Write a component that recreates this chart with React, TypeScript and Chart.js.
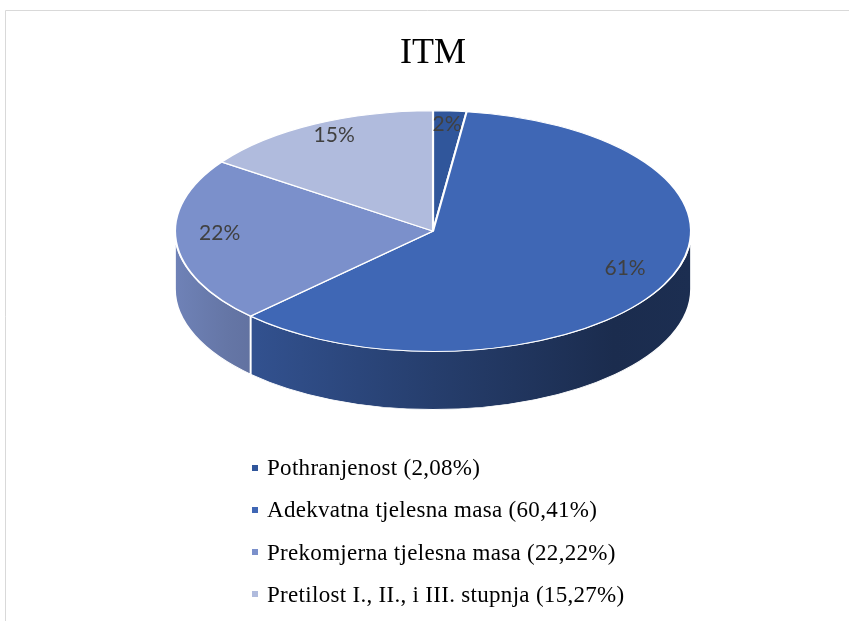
import React, { useEffect, useRef } from "react";
import { Chart, registerables } from "chart.js";

Chart.register(...registerables);

const TITLE = "ITM";
const categories = [
  "Pothranjenost",
  "Adekvatna tjelesna masa",
  "Prekomjerna tjelesna masa",
  "Pretilost I., II., i III. stupnja",
];
const legendPercents = ["2,08%", "60,41%", "22,22%", "15,27%"];
const values = [2.08, 60.41, 22.22, 15.27];
const sliceLabels = ["2%", "61%", "22%", "15%"];
const colors = ["#30569B", "#3F67B5", "#7B90CB", "#B0BBDD"];

// side shading: [position across ellipse width, brightness factor]
const sideShade: [number, number][] = [
  [0, 0.9],
  [0.1, 0.82],
  [0.5, 0.6],
  [0.85, 0.43],
  [1, 0.45],
];

function shade(hex: string, f: number) {
  const n = parseInt(hex.slice(1), 16);
  const r = Math.round(((n >> 16) & 255) * f);
  const g = Math.round(((n >> 8) & 255) * f);
  const b = Math.round((n & 255) * f);
  return `rgb(${r},${g},${b})`;
}

const pie3d = {
  id: "pie3d",
  beforeDraw(chart: any) {
    const { ctx, width, height } = chart;
    ctx.save();
    ctx.fillStyle = "#ffffff";
    ctx.fillRect(0, 0, width, height);
    ctx.strokeStyle = "#d9d9d9";
    ctx.lineWidth = 1;
    ctx.beginPath();
    ctx.moveTo(5.5, height + 2);
    ctx.lineTo(5.5, 10.5);
    ctx.lineTo(width + 2, 10.5);
    ctx.stroke();
    ctx.restore();
  },
  beforeDatasetsDraw(chart: any, _args: any, opts: any) {
    const ctx = chart.ctx;
    const meta = chart.getDatasetMeta(0);
    const arcs = meta.data;
    ctx.save();
    if (!arcs.length) return;
    const cx = arcs[0].x;
    const cy = arcs[0].y;
    const r = arcs[0].outerRadius;
    const sx = chart.chartArea.width / 2 / r;
    const depth = opts.depth || 58;
    ctx.translate(cx, cy);
    ctx.scale(sx, 1);
    ctx.translate(-cx, -cy);
    const ranges = [
      [0, Math.PI],
      [2 * Math.PI, 3 * Math.PI],
      [-2 * Math.PI, -Math.PI],
    ];
    arcs.forEach((arc: any, i: number) => {
      const s = arc.startAngle;
      const e = arc.endAngle;
      const col = colors[i % colors.length];
      ranges.forEach(([lo, hi]) => {
        const a1 = Math.max(s, lo);
        const a2 = Math.min(e, hi);
        if (a2 <= a1) return;
        const grad = ctx.createLinearGradient(cx - r, 0, cx + r, 0);
        sideShade.forEach(([p, f]) => grad.addColorStop(p, shade(col, f)));
        ctx.beginPath();
        ctx.arc(cx, cy, r, a1, a2, false);
        ctx.lineTo(cx + r * Math.cos(a2), cy + r * Math.sin(a2) + depth);
        ctx.arc(cx, cy + depth, r, a2, a1, true);
        ctx.closePath();
        ctx.fillStyle = grad;
        ctx.fill();
        ctx.strokeStyle = "#ffffff";
        ctx.lineWidth = 0.8;
        ctx.stroke();
      });
    });
  },
  afterDatasetsDraw(chart: any) {
    const ctx = chart.ctx;
    ctx.restore();
    const meta = chart.getDatasetMeta(0);
    const arcs = meta.data;
    if (!arcs.length) return;
    const cx = arcs[0].x;
    const cy = arcs[0].y;
    const r = arcs[0].outerRadius;
    const sx = chart.chartArea.width / 2 / r;
    ctx.save();
    ctx.font = "21px Lato, 'Liberation Sans', sans-serif";
    ctx.fillStyle = "#404040";
    ctx.textAlign = "center";
    ctx.textBaseline = "middle";
    arcs.forEach((arc: any, i: number) => {
      const mid = (arc.startAngle + arc.endAngle) / 2;
      const f = 0.83;
      const x = cx + Math.cos(mid) * r * f * sx;
      const y = cy + Math.sin(mid) * r * f - 7;
      ctx.fillText(sliceLabels[i], x, y);
    });
    ctx.restore();
  },
};

export default function App() {
  const canvasRef = useRef<HTMLCanvasElement>(null);

  useEffect(() => {
    if (!canvasRef.current) return;
    const chart = new Chart(canvasRef.current, {
      type: "pie",
      data: {
        labels: categories,
        datasets: [
          {
            data: values,
            backgroundColor: colors,
            borderColor: "#ffffff",
            borderWidth: 1,
            hoverOffset: 0,
            clip: false,
          } as any,
        ],
      },
      options: {
        animation: false,
        responsive: true,
        maintainAspectRatio: false,
        events: [],
        layout: { padding: { left: 175, right: 158, top: 0, bottom: 269 } },
        plugins: {
          legend: { display: false },
          tooltip: { enabled: false },
          title: {
            display: true,
            text: TITLE,
            color: "#000000",
            font: { family: "'Liberation Serif', 'Times New Roman', serif", size: 36, weight: "normal" },
            padding: { top: 32, bottom: 35 },
          },
          pie3d: { depth: 58 },
        } as any,
      },
      plugins: [pie3d],
    });
    return () => chart.destroy();
  }, []);

  return (
    <div style={{ position: "fixed", left: 0, top: 0, width: 849, height: 621, overflow: "hidden", background: "#fff" }}>
      <canvas ref={canvasRef} />
      <div
        style={{
          position: "absolute",
          left: 252,
          top: 447.1,
          fontFamily: "'Liberation Serif', 'Times New Roman', serif",
          fontSize: 23,
          letterSpacing: "0.3px",
          lineHeight: "42.3px",
          color: "#000",
          whiteSpace: "nowrap",
        }}
      >
        {categories.map((c, i) => (
          <div key={c}>
            <span
              style={{
                display: "inline-block",
                width: 6,
                height: 6,
                background: colors[i],
                marginRight: 9,
                verticalAlign: "4.5px",
              }}
            />
            {`${c} (${legendPercents[i]})`}
          </div>
        ))}
      </div>
    </div>
  );
}
